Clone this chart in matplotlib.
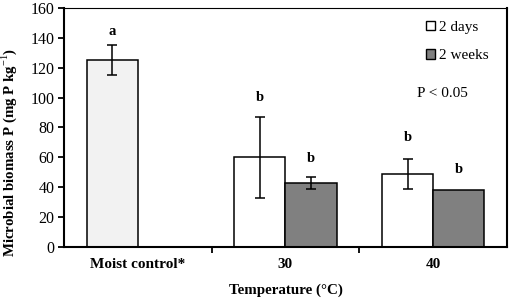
import numpy as np
import matplotlib.pyplot as plt
from matplotlib.patches import Patch

plt.rcParams['font.family'] = ['Liberation Serif', 'DejaVu Serif']
plt.rcParams['mathtext.fontset'] = 'custom'
plt.rcParams['mathtext.rm'] = 'Liberation Serif'
plt.rcParams['mathtext.bf'] = 'Liberation Serif:bold'

# donnees
groupes = ["Moist control*", "30", "40"]
serie1 = [125, 60, 49]      # moist control / 2 days
err1 = [10, 27, 10]
serie2 = [np.nan, 43, 38]   # 2 weeks
err2 = [0, 4, 0]
lettres1 = ["a", "b", "b"]
y_lettres1 = [144, 100, 73]
lettres2 = ["", "b", "b"]
y_lettres2 = [0, 59, 52]

x = np.arange(len(groupes))
w = 0.347

fig = plt.figure(figsize=(5.1, 3.0), dpi=100)
ax = fig.add_axes([0.1255, 0.177, 0.8685, 0.796])

couleurs1 = ["#f2f2f2", "white", "white"]
ax.bar(x - w / 2, serie1, w, color=couleurs1, edgecolor="black", linewidth=1.1,
       yerr=err1, error_kw=dict(ecolor="black", elinewidth=1.1, capsize=3.3, capthick=1.1))
e2 = [e if e > 0 else np.nan for e in err2]
ax.bar(x + w / 2, serie2, w, color="#808080", edgecolor="black", linewidth=1.1,
       yerr=e2, error_kw=dict(ecolor="black", elinewidth=1.1, capsize=3.3, capthick=1.1))

for i in range(len(x)):
    ax.text(x[i] - w / 2, y_lettres1[i], lettres1[i], ha="center", va="center",
            fontsize=10.5, fontweight="bold")
    if lettres2[i]:
        ax.text(x[i] + w / 2, y_lettres2[i], lettres2[i], ha="center", va="center",
                fontsize=10.5, fontweight="bold")

ax.set_xlim(-0.5, 2.5)
ax.set_ylim(0, 160)
ax.set_yticks(np.arange(0, 161, 20))
ax.set_xticks([0.5, 1.5])
ax.set_xticklabels([])
ax.set_xticks(x, minor=True)
ax.set_xticklabels(groupes, minor=True, fontweight="bold", fontsize=11)
ax.tick_params(axis="x", which="minor", length=0, pad=8)
ax.tick_params(axis="x", which="major", length=4, width=1.3, direction="out")
ax.tick_params(axis="y", length=4, width=1.3, labelsize=11.5, pad=3)

ax.spines["left"].set_linewidth(1.5)
ax.spines["bottom"].set_linewidth(1.5)
ax.spines["right"].set_linewidth(1.5)
ax.spines["top"].set_linewidth(0.8)

ax.set_ylabel("Microbial biomass P (mg P kg$^{-1}$)", fontweight="bold", fontsize=10.7)
ax.yaxis.set_label_coords(-0.102, 0.397)
ax.set_xlabel("Temperature (°C)", fontweight="bold", fontsize=10.8, labelpad=9)

handles = [Patch(facecolor="white", edgecolor="black", linewidth=1),
           Patch(facecolor="#808080", edgecolor="black", linewidth=1)]
ax.legend(handles, ["2 days", "2 weeks"], loc="upper right", bbox_to_anchor=(0.99, 1.005),
          frameon=False, handlelength=0.6, handleheight=0.6, handletextpad=0.25,
          labelspacing=1.0, fontsize=11)

ax.text(0.855, 0.644, "P < 0.05", transform=ax.transAxes, ha="center", va="center", fontsize=11)

plt.savefig("out.png", dpi=100)
plt.close()
